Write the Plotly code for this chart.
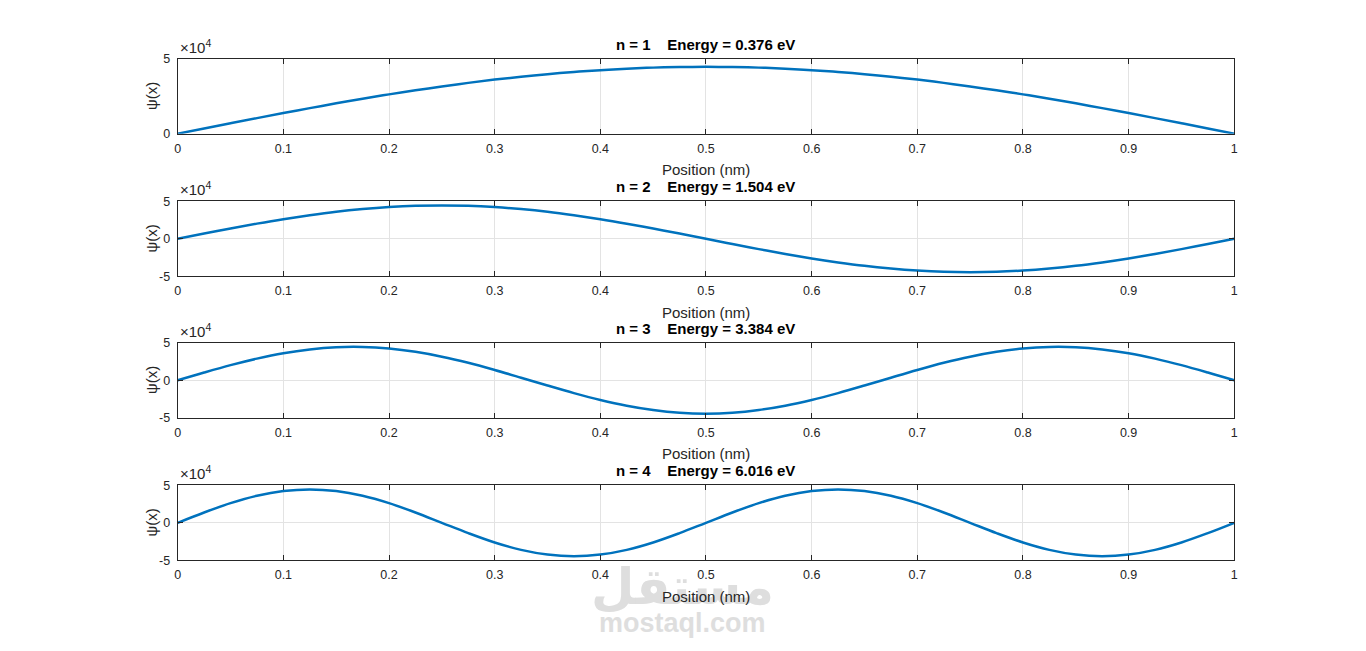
import plotly.graph_objects as go

# position along the well (nm)
x_nm = [round(0.025 * k, 3) for k in range(41)]

# psi(x), in units of 1e4
psi_n1 = [0, 0.35, 0.70, 1.04, 1.38, 1.71, 2.03, 2.34, 2.63, 2.90, 3.16, 3.40, 3.62, 3.81,
          3.98, 4.13, 4.25, 4.35, 4.42, 4.46, 4.47, 4.46, 4.42, 4.35, 4.25, 4.13, 3.98, 3.81,
          3.62, 3.40, 3.16, 2.90, 2.63, 2.34, 2.03, 1.71, 1.38, 1.04, 0.70, 0.35, 0]
psi_n2 = [0, 0.70, 1.38, 2.03, 2.63, 3.16, 3.62, 3.98, 4.25, 4.42, 4.47, 4.42, 4.25, 3.98,
          3.62, 3.16, 2.63, 2.03, 1.38, 0.70, 0, -0.70, -1.38, -2.03, -2.63, -3.16, -3.62,
          -3.98, -4.25, -4.42, -4.47, -4.42, -4.25, -3.98, -3.62, -3.16, -2.63, -2.03, -1.38,
          -0.70, 0]
psi_n3 = [0, 1.04, 2.03, 2.90, 3.62, 4.13, 4.42, 4.46, 4.25, 3.81, 3.16, 2.34, 1.38, 0.35,
          -0.70, -1.71, -2.63, -3.40, -3.98, -4.35, -4.47, -4.35, -3.98, -3.40, -2.63, -1.71,
          -0.70, 0.35, 1.38, 2.34, 3.16, 3.81, 4.25, 4.46, 4.42, 4.13, 3.62, 2.90, 2.03, 1.04, 0]
psi_n4 = [0, 1.38, 2.63, 3.62, 4.25, 4.47, 4.25, 3.62, 2.63, 1.38, 0, -1.38, -2.63, -3.62,
          -4.25, -4.47, -4.25, -3.62, -2.63, -1.38, 0, 1.38, 2.63, 3.62, 4.25, 4.47, 4.25,
          3.62, 2.63, 1.38, 0, -1.38, -2.63, -3.62, -4.25, -4.47, -4.25, -3.62, -2.63, -1.38, 0]

levels = [1, 2, 3, 4]
energies = [0.376, 1.504, 3.384, 6.016]
series = [psi_n1, psi_n2, psi_n3, psi_n4]

W, H = 1366, 651
# the page comes out slightly shrunk toward its centre, so undo that
SX, SY = 0.9953, 0.982


def fx(p):
    return (683 + (p - 683) / SX) / W


def fy(p):
    return 1 - (325.5 + (p - 325.5) / SY) / H


left, right = 178, 1235
tops = [58, 201, 343, 486]
ax_h = 75

FONT = "Liberation Sans, Arial, sans-serif"
AXC = "#262626"

fig = go.Figure()
annotations = []

# watermark
annotations.append(dict(text="<b>مستقل</b>", x=fx(683), y=fy(588), xref="paper", yref="paper",
                        xanchor="center", yanchor="middle", showarrow=False,
                        font=dict(family="DejaVu Sans", size=50, color="#dedede")))
annotations.append(dict(text="<b>mostaql.com</b>", x=fx(683), y=fy(624), xref="paper", yref="paper",
                        xanchor="center", yanchor="middle", showarrow=False,
                        font=dict(family=FONT, size=27, color="#dedede")))

for i, (n, e, psi) in enumerate(zip(levels, energies, series)):
    idx = "" if i == 0 else str(i + 1)
    y0 = fy(tops[i] + ax_h)
    y1 = fy(tops[i])
    fig.add_trace(go.Scatter(x=x_nm, y=psi, mode="lines", line=dict(color="#0072BD", width=2.5, shape="spline"),
                             xaxis="x" + idx, yaxis="y" + idx, showlegend=False))
    if i == 0:
        yr, yt = [0, 5], [0, 5]
    else:
        yr, yt = [-5, 5], [-5, 0, 5]
    common = dict(showline=True, linecolor=AXC, linewidth=1, mirror="ticks", ticks="inside",
                  ticklen=5, tickcolor=AXC, showgrid=True, gridcolor="#e3e3e3", gridwidth=1,
                  zeroline=False, tickfont=dict(family=FONT, size=12.5, color=AXC))
    fig.layout["xaxis" + idx] = dict(common, domain=[fx(left), fx(right)], range=[0, 1],
                                     tickvals=[round(0.1 * k, 1) for k in range(11)],
                                     ticktext=["0"] + ["%.1f" % (0.1 * k) for k in range(1, 10)] + ["1"],
                                     ticklabelstandoff=3, anchor="y" + idx)
    fig.layout["yaxis" + idx] = dict(common, domain=[y0, y1], range=yr, tickvals=yt,
                                     ticktext=[str(v) for v in yt], ticklabelstandoff=4,
                                     anchor="x" + idx)
    annotations.append(dict(text="<b>n = %d\u00a0\u00a0\u00a0\u00a0Energy = %.3f eV</b>" % (n, e),
                            x=fx((left + right) / 2), y=y1, xref="paper", yref="paper",
                            xanchor="center", yanchor="bottom", yshift=4, showarrow=False,
                            font=dict(family=FONT, size=15, color="#000000")))
    annotations.append(dict(text="Position (nm)", x=fx((left + right) / 2), y=fy(tops[i] + ax_h + 36),
                            xref="paper", yref="paper", xanchor="center", yanchor="middle",
                            showarrow=False, font=dict(family=FONT, size=15, color=AXC)))
    annotations.append(dict(text="ψ(x)", x=fx(152), y=(y0 + y1) / 2, xref="paper", yref="paper",
                            xanchor="center", yanchor="middle", textangle=-90, showarrow=False,
                            font=dict(family=FONT, size=15, color=AXC)))
    annotations.append(dict(text="×10<sup>4</sup>", x=fx(left), y=y1, xref="paper", yref="paper",
                            xanchor="left", yanchor="bottom", yshift=1, showarrow=False,
                            font=dict(family=FONT, size=15, color=AXC)))

fig.update_layout(width=W, height=H, autosize=False, margin=dict(l=0, r=0, t=0, b=0, pad=0),
                  paper_bgcolor="white", plot_bgcolor="white",
                  annotations=annotations, font=dict(family=FONT))

fig.write_html("out.html", config={"displayModeBar": False},
               post_script="document.body.style.margin='0';")
